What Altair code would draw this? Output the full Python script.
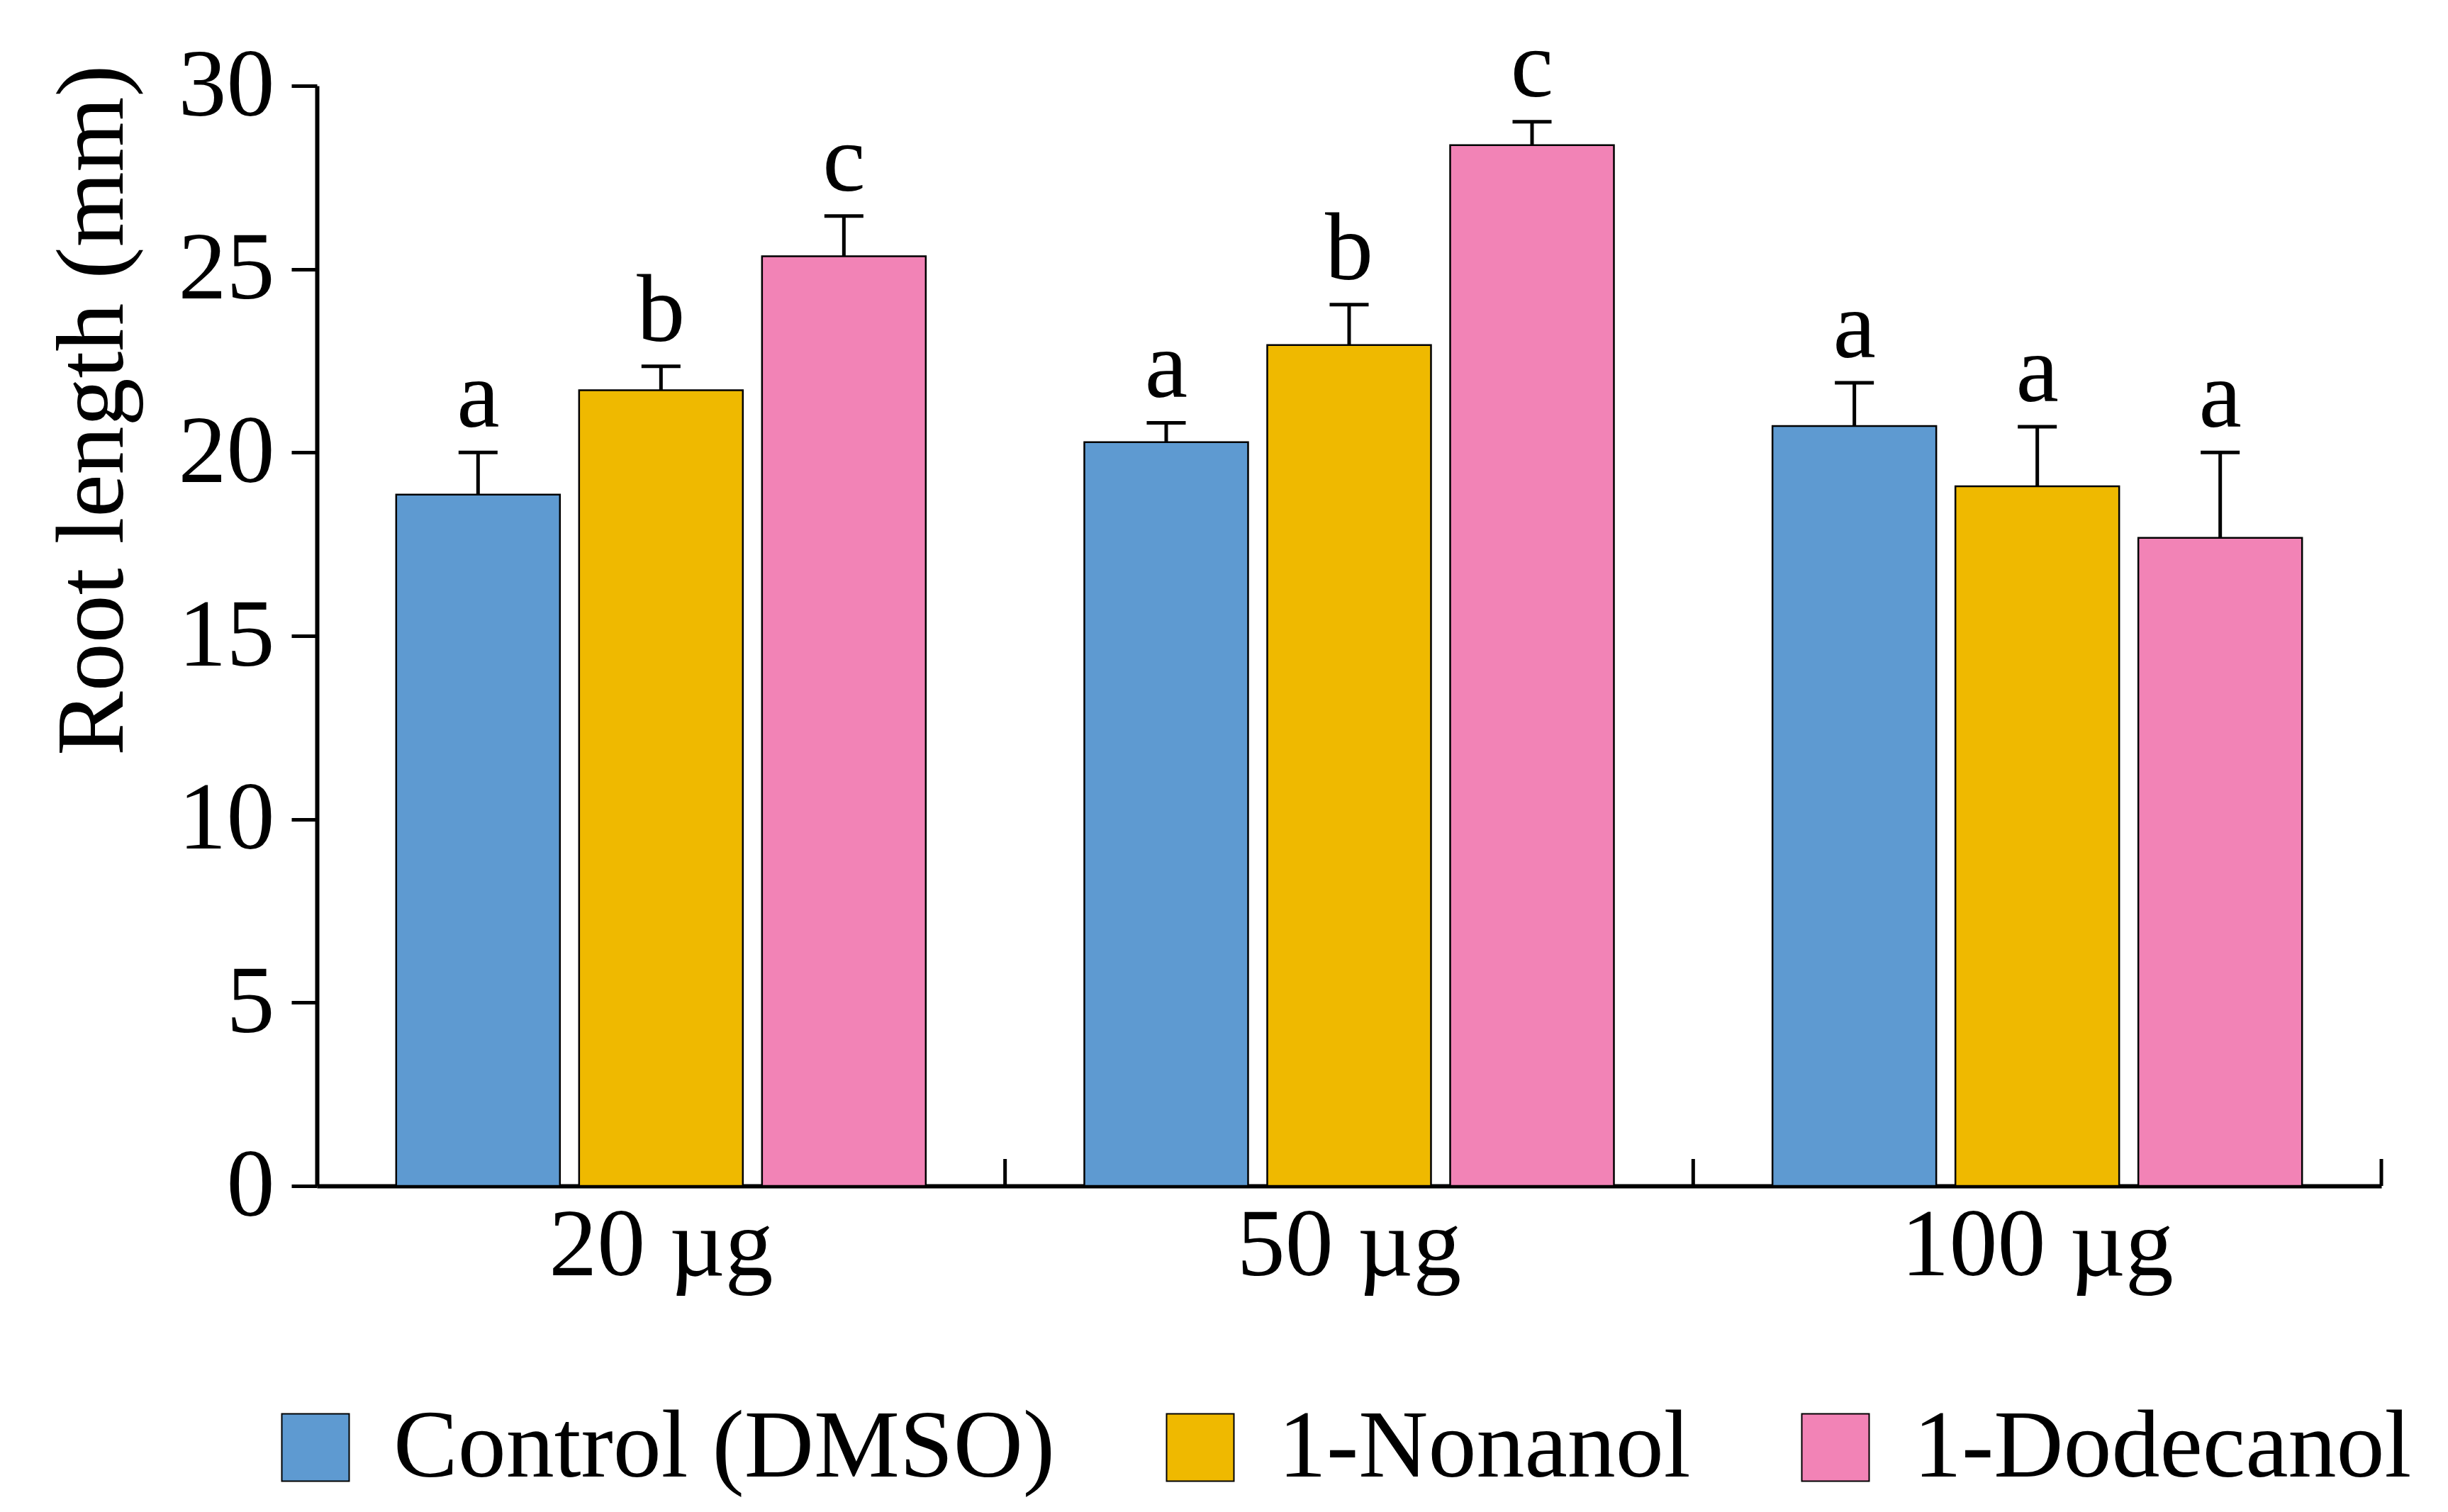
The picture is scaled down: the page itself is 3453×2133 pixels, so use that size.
import altair as alt
import pandas as pd

groups = ["20 µg", "50 µg", "100 µg"]
series = ["Control (DMSO)", "1-Nonanol", "1-Dodecanol"]
colors = ["#5E9AD1", "#EFB900", "#F283B6"]

control_mean = [18.85, 20.28, 20.72]
control_se = [1.15, 0.53, 1.18]
nonanol_mean = [21.70, 22.93, 19.08]
nonanol_se = [0.65, 1.10, 1.62]
dodecanol_mean = [25.35, 28.38, 17.67]
dodecanol_se = [1.10, 0.64, 2.33]
control_letters = ["a", "a", "a"]
nonanol_letters = ["b", "b", "a"]
dodecanol_letters = ["c", "c", "a"]

rows = []
for s, means, ses, lets in [
    (series[0], control_mean, control_se, control_letters),
    (series[1], nonanol_mean, nonanol_se, nonanol_letters),
    (series[2], dodecanol_mean, dodecanol_se, dodecanol_letters),
]:
    for g, m, e, l in zip(groups, means, ses, lets):
        rows.append({"group": g, "series": s, "mean": m, "upper": m + e, "letter": l})
df = pd.DataFrame(rows)
gdf = pd.DataFrame({"group": groups})

W, H = 2912, 1552
FONT = "Liberation Serif"
FS = 136

xscale = alt.Scale(domain=groups, paddingInner=0, paddingOuter=0)
xaxis = alt.Axis(title=None, labelAngle=0, labelFontSize=FS, labelFont=FONT,
                 labelColor="black", labelPadding=18, labelLimit=3000, ticks=False,
                 tickSize=0, domainColor="black", domainWidth=6, labelBaseline="top")
x = alt.X("group:N", sort=groups, scale=xscale, axis=xaxis)
xoff = alt.XOffset("series:N", sort=series,
                   scale=alt.Scale(domain=series, paddingInner=0.1047, paddingOuter=0.4334))

yscale = alt.Scale(domain=[0, 30], nice=False, zero=True)
yaxis = alt.Axis(title="Root length (mm)", values=[0, 5, 10, 15, 20, 25, 30],
                 labelFontSize=FS, labelFont=FONT, labelColor="black", labelPadding=24,
                 tickSize=36, tickWidth=5, tickColor="black", domainColor="black",
                 domainWidth=6, grid=False, titleFont=FONT, titleFontSize=FS,
                 titleFontWeight="normal", titleColor="black", titlePadding=50,
                 titleAnchor="end", titleY=-30)

base = alt.Chart(df)

bars = base.mark_bar(stroke="black", strokeWidth=2.5).encode(
    x=x,
    xOffset=xoff,
    y=alt.Y("mean:Q", scale=yscale, axis=yaxis),
    color=alt.Color("series:N", sort=series,
                    scale=alt.Scale(domain=series, range=colors),
                    legend=alt.Legend(title=None, orient="none", direction="horizontal",
                                      columns=3, legendX=-70, legendY=1853,
                                      labelFont=FONT, labelFontSize=FS, labelColor="black",
                                      labelLimit=3000, labelOffset=42, columnPadding=136,
                                      symbolType="square", symbolSize=9025,
                                      symbolStrokeColor="black", symbolStrokeWidth=2,
                                      symbolOpacity=1, padding=0)),
)

err_line = base.mark_rule(color="black", strokeWidth=5).encode(
    x=x, xOffset=xoff, y=alt.Y("mean:Q", scale=yscale), y2="upper:Q"
)
err_cap = base.mark_tick(color="black", thickness=5, size=55, opacity=1).encode(
    x=x, xOffset=xoff, y=alt.Y("upper:Q", scale=yscale)
)
letters = base.mark_text(font=FONT, fontSize=FS, color="black", baseline="alphabetic",
                         align="center", dy=-36).encode(
    x=x, xOffset=xoff, y=alt.Y("upper:Q", scale=yscale), text="letter:N"
)
group_ticks = alt.Chart(gdf).mark_rule(color="black", strokeWidth=5).encode(
    x=alt.X("group:N", sort=groups, scale=xscale, bandPosition=1),
    y=alt.value(H),
    y2=alt.value(H - 38),
)

chart = alt.layer(bars, err_line, err_cap, letters, group_ticks).properties(
    width=W, height=H,
    autosize=alt.AutoSizeParams(type="none"),
    padding={"left": 439, "top": 113, "right": 86, "bottom": 452},
    background="white",
).configure_view(stroke=None)

chart.save("out.html", embed_options={"renderer": "svg", "actions": False})
